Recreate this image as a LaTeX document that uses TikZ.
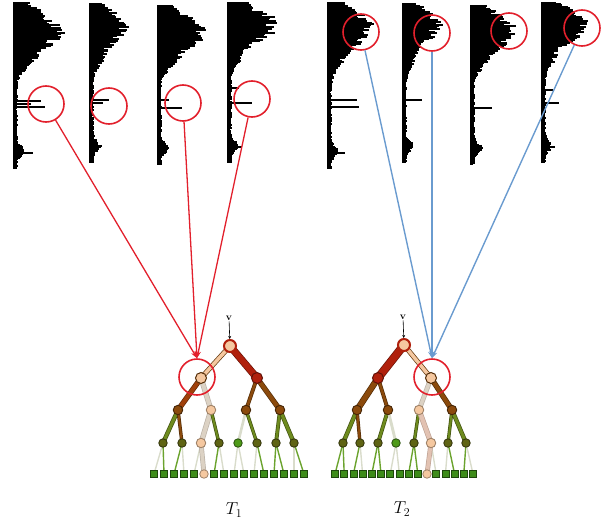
\documentclass[tikz,border=0pt]{standalone}
\usetikzlibrary{arrows.meta,backgrounds}
\definecolor{dkred}{HTML}{B0200C}
\definecolor{brn}{HTML}{8B4A0C}
\definecolor{brnred}{HTML}{A0400A}
\definecolor{peach}{HTML}{F5C8A0}
\definecolor{olivn}{HTML}{5F6414}
\definecolor{grn}{HTML}{4E9A18}
\definecolor{leafg}{HTML}{3E8C1A}
\definecolor{beige}{HTML}{DCD2C4}
\definecolor{pbeige}{HTML}{E2C2B2}
\definecolor{lg}{HTML}{D9DCCB}
\definecolor{eg}{HTML}{6BA32E}
\definecolor{eolive}{HTML}{6E8B1E}
\definecolor{circred}{HTML}{E2202C}
\definecolor{lblue}{HTML}{6A9BCF}
\newcommand\hist[6]{%
  \draw[gray, line width=0.8pt] (#1,#2) -- (#1,#3);
  \pgfmathtruncatemacro\histN{#3-#2}
  \foreach \i in {0,...,\histN}{
    \pgfmathsetmacro\tt{\i/\histN}
    \pgfmathsetmacro\dd{(\tt-#5)/#6}
    \pgfmathsetmacro\ee{(\tt-0.36)/0.07}
    \pgfmathsetmacro\ff{(\tt-0.9)/0.04}
    \pgfmathsetmacro\w{(#4*exp(-\dd*\dd) + 6*exp(-\ee*\ee) + 5 + 8*exp(-\ff*\ff))*(0.65+0.35*rnd)}
    \draw[line width=1.1pt] (#1,#2+\i) -- ++(\w,0);
  }
}
\newcommand\spike[3]{\draw[line width=1.2pt, black] (#1,#2) -- ++(#3,0);}
\newcommand\tedge[5]{%
  \draw[line width=#5+1.4pt, #4] (#1.center) -- (#2.center);
  \draw[line width=#5, #3] (#1.center) -- (#2.center);}
\begin{document}
\begin{tikzpicture}[x=1pt,y=-1pt,
  hcirc/.style={circle, draw=circred, line width=1.6pt, minimum size=36pt, inner sep=0pt},
  nroot/.style={circle, inner sep=0pt, minimum size=12pt, fill=peach, draw=dkred, line width=2pt},
  nred/.style={circle, inner sep=0pt, minimum size=11pt, fill=dkred, draw=dkred!55!black, line width=1pt},
  npeachA/.style={circle, inner sep=0pt, minimum size=11pt, fill=peach, draw=brn!60!black, line width=1pt},
  nbrown/.style={circle, inner sep=0pt, minimum size=9.5pt, fill=brn, draw=brn!50!black, line width=0.9pt},
  npeach/.style={circle, inner sep=0pt, minimum size=9.5pt, fill=peach, draw=peach!65!black, line width=0.9pt},
  nolive/.style={circle, inner sep=0pt, minimum size=8.5pt, fill=olivn, draw=olivn!50!black, line width=0.8pt},
  ngreen/.style={circle, inner sep=0pt, minimum size=8.5pt, fill=grn, draw=grn!50!black, line width=0.8pt},
  nleaf/.style={rectangle, inner sep=0pt, minimum size=7pt, fill=leafg, draw=leafg!50!black, line width=0.7pt},
  npleaf/.style={circle, inner sep=0pt, minimum size=8.5pt, fill=peach, draw=peach!65!black, line width=0.8pt},
  redarrow/.style={circred, line width=1.3pt, -{Stealth[length=7pt,width=5pt]}},
  bluearrow/.style={lblue, line width=1.4pt, -{Stealth[length=7pt,width=5pt]}},
  vlabel/.style={font=\bfseries\normalsize, inner sep=1pt},
  tlabel/.style={font=\fontsize{17}{19}\selectfont}
]
\useasboundingbox (0,0) rectangle (604,524);
\pgfmathsetseed{7}
% histograms
\hist{13}{3}{168}{48}{0.17}{0.15}
\hist{89}{4}{162}{36}{0.15}{0.14}
\hist{157}{6}{164}{46}{0.17}{0.15}
\hist{227}{3}{162}{50}{0.14}{0.14}
\hist{327}{3}{168}{44}{0.15}{0.15}
\hist{402}{4}{162}{36}{0.14}{0.14}
\hist{470}{6}{164}{44}{0.16}{0.15}
\hist{541}{3}{162}{46}{0.14}{0.14}
\spike{13}{101}{28}\spike{13}{104}{18}\spike{13}{107}{32}\spike{13}{153}{20}
\spike{89}{100}{20}\spike{89}{103}{14}
\spike{157}{100}{12}\spike{157}{108}{25}
\spike{227}{103}{25}\spike{227}{88}{12}\spike{227}{147}{15}
\spike{327}{100}{30}\spike{327}{107}{32}\spike{327}{153}{18}
\spike{402}{100}{20}
\spike{470}{108}{22}
\spike{541}{103}{18}\spike{541}{90}{12}\spike{541}{147}{14}
% circles on histograms
\node[hcirc] (c1) at (46,104) {};
\node[hcirc] (c2) at (109,106) {};
\node[hcirc] (c3) at (183,103) {};
\node[hcirc] (c4) at (252,99) {};
\node[hcirc] (c5) at (361,32) {};
\node[hcirc] (c6) at (432,33) {};
\node[hcirc] (c7) at (509,31) {};
\node[hcirc] (c8) at (582,28) {};
% ---------------- tree T1
\node[nroot] (r1) at (230,346) {};
\node[npeachA] (l1a) at (201,378) {};
\node[nred] (l1b) at (257,378) {};
\node[nbrown] (m1a) at (178,410) {};
\node[npeach] (m1b) at (211,410) {};
\node[nbrown] (m1c) at (246,410) {};
\node[nbrown] (m1d) at (280,410) {};
\foreach \x/\s [count=\k from 0] in {163/nolive,182/nolive,201/npeach,219/nolive,238/ngreen,257/nolive,276/nolive,294/nolive}
  \node[\s] (k1\k) at (\x,443) {};
\foreach \i in {0,...,15}{
  \ifnum\i=5 \node[npleaf] (a\i) at ({154+10*\i},474) {};
  \else \node[nleaf] (a\i) at ({154+10*\i},474) {}; \fi
}
% ---------------- tree T2
\node[nroot] (r2) at (404,345) {};
\node[nred] (l2a) at (378,378) {};
\node[npeachA] (l2b) at (431,378) {};
\node[nbrown] (m2a) at (357,410) {};
\node[nbrown] (m2b) at (388,410) {};
\node[npeach] (m2c) at (419,410) {};
\node[nbrown] (m2d) at (452,410) {};
\foreach \x/\s [count=\k from 0] in {343/nolive,360/nolive,378/nolive,396/ngreen,414/nolive,431/npeach,448/nolive,466/nolive}
  \node[\s] (k2\k) at (\x,443) {};
\foreach \i in {0,...,15}{
  \ifnum\i=10 \node[npleaf] (b\i) at ({335+9.2*\i},474) {};
  \else \node[nleaf] (b\i) at ({335+9.2*\i},474) {}; \fi
}
% edges
\begin{pgfonlayer}{background}
\tedge{r1}{l1a}{peach}{brn!70!black}{3.5pt}
\tedge{r1}{l1b}{dkred}{dkred!60!black}{6pt}
\tedge{l1a}{m1a}{brnred}{brnred!60!black}{4pt}
\tedge{l1a}{m1b}{beige}{beige!85!black}{4pt}
\tedge{l1b}{m1c}{brn}{brn!60!black}{2.5pt}
\tedge{l1b}{m1d}{brn}{brn!60!black}{4pt}
\tedge{m1a}{k10}{eolive}{eolive!60!black}{3pt}
\tedge{m1a}{k11}{brn}{brn!60!black}{2pt}
\tedge{m1b}{k12}{beige}{beige!85!black}{4pt}
\tedge{m1b}{k13}{eolive}{eolive!60!black}{2pt}
\tedge{m1c}{k14}{lg}{lg}{1.2pt}
\tedge{m1c}{k15}{eolive}{eolive!60!black}{2pt}
\tedge{m1d}{k16}{eolive}{eolive!60!black}{2.5pt}
\tedge{m1d}{k17}{eolive}{eolive!60!black}{3pt}
\foreach \j/\c in {0/lg,1/eg,2/eg,3/lg,4/lg,6/eg,7/lg,8/lg,9/lg,10/lg,11/eg,12/eg,13/eg,14/lg,15/eg}{
  \pgfmathtruncatemacro\p{int(\j/2)}
  \draw[line width=1.4pt, \c] (k1\p.center) -- (a\j.center);
}
\tedge{k12}{a5}{beige}{beige!85!black}{3.5pt}
\tedge{r2}{l2a}{dkred}{dkred!60!black}{7pt}
\tedge{r2}{l2b}{peach}{brn!70!black}{3.5pt}
\tedge{l2a}{m2a}{brn}{brn!60!black}{5pt}
\tedge{l2a}{m2b}{brn}{brn!60!black}{2.5pt}
\tedge{l2b}{m2c}{beige}{beige!85!black}{3.5pt}
\tedge{l2b}{m2d}{brn}{brn!60!black}{4pt}
\tedge{m2a}{k20}{eolive}{eolive!60!black}{3pt}
\tedge{m2a}{k21}{brn}{brn!60!black}{2pt}
\tedge{m2b}{k22}{eolive}{eolive!60!black}{2.5pt}
\tedge{m2b}{k23}{lg}{lg}{1.5pt}
\tedge{m2c}{k24}{eolive}{eolive!60!black}{2pt}
\tedge{m2c}{k25}{pbeige}{pbeige!85!black}{4pt}
\tedge{m2d}{k26}{eolive}{eolive!60!black}{2pt}
\tedge{m2d}{k27}{eolive}{eolive!60!black}{3pt}
\foreach \j/\c in {0/eg,1/eg,2/eg,3/lg,4/eg,5/eg,6/lg,7/lg,8/eg,9/eg,11/lg,12/lg,13/eg,14/eg,15/lg}{
  \pgfmathtruncatemacro\p{int(\j/2)}
  \draw[line width=1.4pt, \c] (k2\p.center) -- (b\j.center);
}
\tedge{k25}{b10}{pbeige}{pbeige!85!black}{3.5pt}
\end{pgfonlayer}
% circles on trees
\node[hcirc] (tc1) at (197,377) {};
\node[hcirc] (tc2) at (432,377) {};
% v labels
\node[vlabel] (v1) at (229,318) {v};
\node[vlabel] (v2) at (403,317) {v};
\draw[-{Stealth[length=3pt,width=3pt]}, line width=0.6pt] (v1) -- (r1);
\draw[-{Stealth[length=3pt,width=3pt]}, line width=0.6pt] (v2) -- (r2);
% connectors
\draw[redarrow] (c1) -- (tc1.north);
\draw[redarrow] (c3) -- (tc1.north);
\draw[redarrow] (c4) -- (tc1.north);
\draw[bluearrow] (c5) -- (tc2.north);
\draw[bluearrow] (c6) -- (tc2.north);
\draw[bluearrow] (c8) -- (tc2.north);
% labels
\node[tlabel] (t1) at (234,510) {$T_1$};
\node[tlabel] (t2) at (402,509) {$T_2$};
\end{tikzpicture}
\end{document}
